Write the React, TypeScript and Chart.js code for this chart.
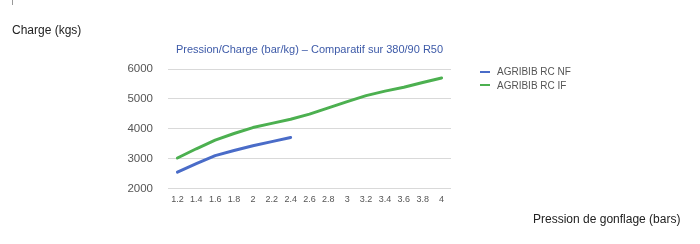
import React, { useEffect, useRef } from "react";
import { Chart, registerables } from "chart.js";

Chart.register(...registerables);

const pressures = ["1.2", "1.4", "1.6", "1.8", "2", "2.2", "2.4", "2.6", "2.8", "3", "3.2", "3.4", "3.6", "3.8", "4"];
const rcNF = [2550, 2830, 3100, 3270, 3430, 3570, 3710, null, null, null, null, null, null, null, null];
const rcIF = [3020, 3330, 3620, 3840, 4040, 4180, 4320, 4490, 4700, 4910, 5110, 5260, 5390, 5550, 5700];
const seriesNames = ["AGRIBIB RC NF", "AGRIBIB RC IF"];
const seriesColors = ["#4a6cc8", "#4cb050"];
const yTicks = { min: 2000, max: 6000, step: 1000 };
const titleText = "Pression/Charge (bar/kg) – Comparatif sur 380/90 R50";
const yAxisTitle = "Charge (kgs)";
const xAxisTitle = "Pression de gonflage (bars)";

const FONT = "'Liberation Sans', Arial, Helvetica, sans-serif";

export default function App() {
  const ref = useRef<HTMLCanvasElement | null>(null);

  useEffect(() => {
    if (!ref.current) return;
    const chart = new Chart(ref.current, {
      type: "line",
      data: {
        labels: pressures,
        datasets: [
          {
            label: seriesNames[0],
            data: rcNF,
            borderColor: seriesColors[0],
            backgroundColor: seriesColors[0],
            borderWidth: 3,
            pointRadius: 0,
            tension: 0,
            borderCapStyle: "round",
            borderJoinStyle: "round",
          },
          {
            label: seriesNames[1],
            data: rcIF,
            borderColor: seriesColors[1],
            backgroundColor: seriesColors[1],
            borderWidth: 3,
            pointRadius: 0,
            tension: 0,
            borderCapStyle: "round",
            borderJoinStyle: "round",
          },
        ],
      },
      options: {
        animation: false,
        responsive: false,
        maintainAspectRatio: false,
        layout: { padding: { left: 0, right: 249, top: 43.5, bottom: 25.5 } },
        plugins: {
          legend: { display: false },
          tooltip: { enabled: false },
          title: {
            display: true,
            text: titleText,
            fullSize: false,
            color: "#3d5aa8",
            font: { family: FONT, size: 11, weight: "normal" },
            padding: { top: 0, bottom: 12.3 },
          },
        },
        scales: {
          x: {
            type: "category",
            offset: true,
            grid: { display: false, drawTicks: false },
            border: { display: false },
            ticks: {
              color: "#555",
              font: { family: FONT, size: 9 },
              padding: 6,
              maxRotation: 0,
              autoSkip: false,
            },
            afterFit: (s: any) => {
              s.height = 30;
            },
          },
          y: {
            min: yTicks.min,
            max: yTicks.max,
            grid: { color: "#d9d9d9", drawTicks: false, lineWidth: 1 },
            border: { display: false },
            ticks: {
              stepSize: yTicks.step,
              color: "#555",
              font: { family: FONT, size: 11.5 },
              padding: 15,
              callback: (v: any) => String(v),
            },
            afterFit: (s: any) => {
              s.width = 168;
            },
          },
        },
      },
    });
    return () => chart.destroy();
  }, []);

  return (
    <div style={{ position: "absolute", left: 0, top: 0, width: 700, height: 244, background: "#fff", fontFamily: FONT }}>
      <canvas ref={ref} width={700} height={244} style={{ position: "absolute", left: 0, top: 0 }} />
      <div style={{ position: "absolute", left: 12, top: 0, width: 1, height: 5, background: "#999" }} />
      <div style={{ position: "absolute", left: 12, top: 23, fontSize: 12, lineHeight: "14px", color: "#222", whiteSpace: "nowrap" }}>
        {yAxisTitle}
      </div>
      <div style={{ position: "absolute", left: 533, top: 212, fontSize: 12, lineHeight: "14px", color: "#222", whiteSpace: "nowrap" }}>
        {xAxisTitle}
      </div>
      {seriesNames.map((name, i) => (
        <div
          key={name}
          style={{ position: "absolute", left: 480, top: 65 + i * 13.5, height: 13, display: "flex", alignItems: "center", whiteSpace: "nowrap" }}
        >
          <span style={{ display: "inline-block", width: 10, height: 2, background: seriesColors[i], marginRight: 7 }} />
          <span style={{ fontSize: 10, color: "#555", lineHeight: "13px" }}>{name}</span>
        </div>
      ))}
    </div>
  );
}
